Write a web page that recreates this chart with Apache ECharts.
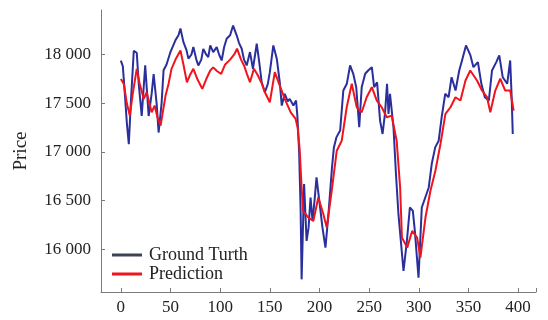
<!DOCTYPE html>
<html>
<head>
<meta charset="utf-8">
<script src="https://cdn.jsdelivr.net/npm/echarts@6/dist/echarts.min.js"></script>
<style>html,body{margin:0;padding:0;background:#fff}#c{width:548px;height:320px}</style>
</head>
<body>
<div id="c"></div>
<script>
var xTicks = [0, 50, 100, 150, 200, 250, 300, 350, 400];
var yTicks = [16000, 16500, 17000, 17500, 18000];

var truthX = [0,2,4,6,8,10,13,16,18,21,24.5,28,31,33,36,38,41,43,46,50,55,58,60,63,66,68,71,73,76,78,81,83,86,88,90,93,96.5,99,101.5,104,106.5,110,113,116.6,119,121.7,124,126.7,130,133,136.8,139,141.8,145,148,150,153.5,157,160,162,165,168,170,173.7,176.4,177.7,179.5,181,182,184.5,187,189,191,193,195,197,200.6,203,206,209,212.6,214.5,217,220.8,224,227.5,230.8,234,237,240,242.5,246,249,252.7,255,258,261,263.5,266,268,269.5,271,274.5,277,279.5,281,284.6,288,291,294,296,299.7,303,306.5,310,313,316.5,320,323,326.6,330,333,337,340.7,343.5,347.5,352,355,359.5,363,366.5,370.5,373.7,378,381,384.5,389,392,393.5,394.6];
var truthY = [17940,17880,17600,17300,17080,17500,18040,18020,17700,17370,17890,17370,17600,17800,17500,17200,17500,17840,17900,18030,18150,18200,18270,18130,18050,17960,18000,18080,17950,17890,17950,18060,18000,17975,18096,18027,18078,18000,17941,18080,18165,18200,18300,18200,18120,18062,17950,17890,18027,17855,18113,17950,17717,17614,17700,17821,18096,17959,17717,17477,17598,17520,17546,17477,17529,17374,17000,16400,15690,16670,16085,16222,16532,16290,16500,16738,16430,16222,16016,16360,16841,17047,17150,17220,17632,17701,17890,17804,17666,17254,17666,17804,17838,17872,17666,17717,17323,17185,17400,17701,17392,17598,17254,16773,16360,16188,15776,16085,16429,16395,16188,15707,16429,16532,16635,16876,17047,17116,17357,17598,17563,17769,17632,17838,17941,18096,17993,17872,17924,17701,17563,17529,17838,17924,17993,17769,17701,17941,17563,17185];

var predX = [0,3,6,9,12,16,19,23,26,31,34,37,40,45,48,51,55,60,63,66.5,70,73,77,82,86,90,93,97,101,105,110,114,117,121,124,127,130,134,138,142,145,150,155,160,165,171,176,178,180,182,183.5,188.8,193.8,198.8,203.9,207.3,212.3,217.4,222.4,227.4,232.5,237.5,242.5,247.5,252.7,257.7,262.7,267.7,272.7,277.7,281.2,283,288.3,293.3,298.3,301.6,306.7,311.7,316.7,321.8,326.8,331.9,336.9,341.9,347,351.8,358.6,363.6,368.7,372,377,382,387,392,395.5];
var predY = [17750,17700,17500,17374,17600,17855,17700,17546,17614,17408,17477,17350,17271,17580,17700,17855,17950,18044,17900,17717,17800,17855,17750,17649,17750,17838,17870,17830,17804,17900,17950,18000,18062,17950,17890,17800,17717,17855,17786,17700,17614,17511,17821,17683,17546,17408,17340,17250,17031,16635,16395,16326,16290,16532,16360,16222,16601,17013,17116,17460,17701,17460,17408,17563,17666,17529,17460,17357,17374,17116,16635,16120,16016,16188,16120,15913,16326,16601,16807,17082,17392,17460,17563,17529,17735,17838,17735,17632,17563,17408,17632,17753,17632,17632,17426];

function pairs(xs, ys) { return xs.map(function (x, i) { return [x, ys[i]]; }); }

var font = 'Liberation Serif';
var chart = echarts.init(document.getElementById('c'), null, {renderer: 'canvas'});
chart.setOption({
  animation: false,
  backgroundColor: '#ffffff',
  grid: {left: 101, right: 12, top: 10, bottom: 28, containLabel: false},
  legend: {
    orient: 'vertical', left: 107, top: 241, itemGap: 1,
    icon: 'rect', itemWidth: 30, itemHeight: 3,
    textStyle: {fontFamily: font, fontSize: 18, color: '#222', padding: [0, 0, 0, 2]},
    data: [
      {name: 'Ground Turth', itemStyle: {color: '#3d4352'}},
      {name: 'Prediction', itemStyle: {color: '#f0141e'}}
    ]
  },
  xAxis: {
    type: 'value', min: -20, max: 418,
    splitLine: {show: false},
    axisLine: {onZero: false, lineStyle: {color: '#7a7a7a', width: 1}},
    axisTick: {inside: true, length: 4, customValues: xTicks.concat([418]), lineStyle: {color: '#7a7a7a'}},
    axisLabel: {customValues: xTicks, fontFamily: font, fontSize: 17, color: '#222', margin: 7}
  },
  yAxis: {
    type: 'value', min: 15560, max: 18460,
    name: 'Price', nameLocation: 'middle', nameGap: 70,
    nameTextStyle: {fontFamily: font, fontSize: 19, color: '#222'},
    splitLine: {show: false},
    axisLine: {show: true, onZero: false, lineStyle: {color: '#7a7a7a', width: 1}},
    axisTick: {show: true, inside: true, length: 4, customValues: yTicks, lineStyle: {color: '#7a7a7a'}},
    axisLabel: {
      customValues: yTicks, fontFamily: font, fontSize: 17, color: '#222', margin: 10,
      formatter: function (v) { return String(v).replace(/(\d+)(\d{3})$/, '$1 $2'); }
    }
  },
  series: [
    {name: 'Ground Turth', type: 'line', data: pairs(truthX, truthY), symbol: 'none',
     lineStyle: {color: '#2a2f9c', width: 2}, itemStyle: {color: '#2a2f9c'}},
    {name: 'Prediction', type: 'line', data: pairs(predX, predY), symbol: 'none',
     lineStyle: {color: '#f0141e', width: 2}, itemStyle: {color: '#f0141e'}}
  ]
});
</script>
</body>
</html>
